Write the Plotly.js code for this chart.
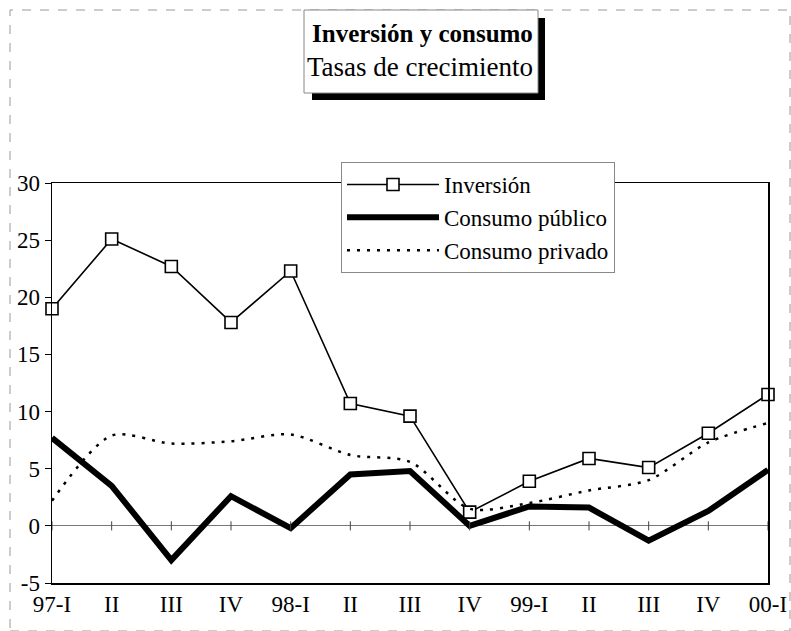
<!DOCTYPE html>
<html>
<head>
<meta charset="utf-8">
<script src="https://cdn.plot.ly/plotly-3.0.1.min.js"></script>
<style>html,body{margin:0;padding:0;background:#fff;}#chart{width:791px;height:631px;}</style>
</head>
<body>
<div id="chart"></div>
<script>
const categories = ["97-I","II","III","IV","98-I","II","III","IV","99-I","II","III","IV","00-I"];
const inversion = [19.0, 25.1, 22.7, 17.8, 22.3, 10.7, 9.6, 1.2, 3.9, 5.9, 5.1, 8.1, 11.5];
const consumoPublico = [7.7, 3.5, -3.0, 2.6, -0.2, 4.5, 4.8, 0.0, 1.7, 1.6, -1.3, 1.3, 4.9];
const consumoPrivado = [2.2, 7.9, 7.2, 7.4, 8.0, 6.2, 5.6, 1.5, 2.0, 3.1, 4.0, 7.3, 9.0];
const yTicks = [-5, 0, 5, 10, 15, 20, 25, 30];
const yTickLabels = ["-5", "0", "5", "10", "15", "20", "25", "30"];

const xIdx = categories.map((_, i) => i);
const FONT = "Liberation Serif, Times New Roman, serif";

// plot area in pixels
const L = 52, R = 768, T = 183, B = 583;
const px = v => (v - L) / (R - L);
const py = v => (B - v) / (B - T);

const traces = [
  {x: xIdx, y: inversion, name: "Inversión", type: "scatter", mode: "lines+markers",
   line: {color: "#000", width: 1.6},
   marker: {symbol: "square", size: 12, color: "#fff", line: {color: "#000", width: 1.6}},
   cliponaxis: false},
  {x: xIdx, y: consumoPublico, name: "Consumo público", type: "scatter", mode: "lines",
   line: {color: "#000", width: 6}, cliponaxis: false},
  {x: xIdx, y: consumoPrivado, name: "Consumo privado", type: "scatter", mode: "lines",
   line: {color: "#000", width: 2.5, dash: "3px,7px", shape: "spline", smoothing: 0.8}, cliponaxis: false}
];

// small tick marks crossing the zero line at every category
const zeroTicks = xIdx.map(i => ({type: "line", xref: "x", yref: "y", x0: i, x1: i, y0: -0.4, y1: 0.4,
  line: {color: "#444", width: 1}}));

const layout = {
  width: 791, height: 631,
  margin: {l: L, r: 791 - R, t: T, b: 631 - B},
  paper_bgcolor: "#fff", plot_bgcolor: "#fff",
  font: {family: FONT, color: "#000", size: 23},
  showlegend: true,
  legend: {x: px(341), y: py(162), xanchor: "left", yanchor: "top",
    bgcolor: "#fff", bordercolor: "#888", borderwidth: 1,
    font: {family: FONT, size: 23}, itemwidth: 92, tracegroupgap: 0},
  xaxis: {range: [0, 12], tickvals: xIdx, ticktext: categories, ticks: "",
    showline: true, mirror: true, linecolor: "#000", linewidth: 1.5,
    showgrid: false, zeroline: false, fixedrange: true,
    tickfont: {family: FONT, size: 23}},
  yaxis: {range: [-5, 30], tickvals: yTicks, ticktext: yTickLabels, ticks: "outside", ticklen: 6, tickcolor: "#000",
    showline: true, mirror: true, linecolor: "#000", linewidth: 1.5,
    showgrid: false, zeroline: true, zerolinecolor: "#777", zerolinewidth: 1,
    tickfont: {family: FONT, size: 23}, fixedrange: true},
  shapes: [
    // outer frame
    {type: "rect", xref: "paper", yref: "paper", x0: px(10), x1: px(790), y0: py(631), y1: py(10),
     line: {color: "#999", width: 1, dash: "dash"}, layer: "below"},
    // title shadow
    {type: "rect", xref: "paper", yref: "paper", x0: px(312), x1: px(545), y0: py(100), y1: py(18),
     fillcolor: "#000", line: {width: 0}},
    // title box
    {type: "rect", xref: "paper", yref: "paper", x0: px(304), x1: px(538), y0: py(93), y1: py(10),
     fillcolor: "#fff", line: {color: "#888", width: 1}}
  ].concat(zeroTicks),
  annotations: [
    {xref: "paper", yref: "paper", x: px(422), y: py(34), text: "<b>Inversión y consumo</b>",
     showarrow: false, font: {family: FONT, size: 25}, xanchor: "center", yanchor: "middle"},
    {xref: "paper", yref: "paper", x: px(420), y: py(67), text: "Tasas de crecimiento",
     showarrow: false, font: {family: FONT, size: 27}, xanchor: "center", yanchor: "middle"}
  ]
};

Plotly.newPlot("chart", traces, layout, {staticPlot: true, displayModeBar: false});
</script>
</body>
</html>
